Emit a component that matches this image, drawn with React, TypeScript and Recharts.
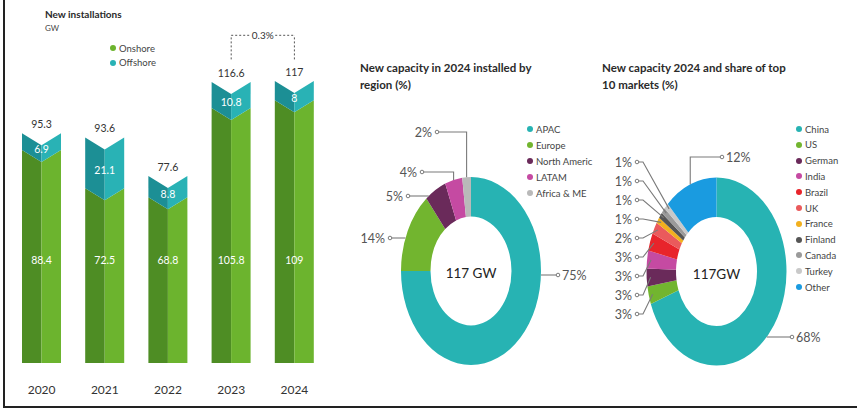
import React from "react";
import {
    BarChart,
    Bar,
    XAxis,
    YAxis,
    LabelList,
    ReferenceLine,
    PieChart,
    Pie,
    Cell,
} from "recharts";

// left panel: new installations, GW
const years = ["2020", "2021", "2022", "2023", "2024"];
const onshore = [88.4, 72.5, 68.8, 105.8, 109];
const offshore = [6.9, 21.1, 8.8, 10.8, 8];
const totals = [95.3, 93.6, 77.6, 116.6, 117];
const growthLabel = "0.3%";
const bracketTop = 136;
const bracketFoot = 126;

// middle panel: 2024 capacity by region
const regions = ["APAC", "Europe", "North Americ", "LATAM", "Africa & ME"];
const regionShares = [75, 14, 5, 4, 2];
const regionColors = ["#27b3b3", "#72b52f", "#6a2a5a", "#c54aa2", "#b9b9b9"];

// right panel: top 10 markets
const markets = ["China", "US", "German", "India", "Brazil", "UK", "France", "Finland", "Canada", "Turkey", "Other"];
const marketShares = [68, 3, 3, 3, 3, 2, 1, 1, 1, 1, 12];
const marketColors = [
    "#27b3b3", "#72b52f", "#6a2a5a", "#c54aa2", "#e8242b", "#ea5a5c",
    "#f2b01e", "#555555", "#9a9a9a", "#c9c9c9", "#1a9be0",
];

const GREEN_DARK = "#4e8d24";
const GREEN_LIGHT = "#6cb42e";
const TEAL_DARK = "#1c8f95";
const TEAL_LIGHT = "#29b2b5";

const DIP = 12; // chevron depth
const K = 1.343; // vertical stretch of the donuts
const OR = 70;
const IR = 40.5;
const RAD = Math.PI / 180;
const NO_MARGIN = { top: 0, right: 0, bottom: 0, left: 0 };

function Prism(props: any) {
    const { x, y, width, height, dark, light } = props;
    if (!height || height <= 0) return null;
    const m = x + width / 2;
    const b = y + height;
    return (
        <g>
            <polygon points={`${x},${y} ${m},${y + DIP} ${m},${b + DIP} ${x},${b}`} fill={dark} />
            <polygon points={`${m},${y + DIP} ${x + width},${y} ${x + width},${b} ${m},${b + DIP}`} fill={light} />
        </g>
    );
}

function box(p: any) {
    return p.viewBox && p.viewBox.width !== undefined ? p.viewBox : p;
}

type Spot = { kind: "left" | "right" | "elbowLeft" | "elbowRight" | "fan"; dy: number; dot: number };

function makeLabel(layout: Spot[], center: string) {
    return (p: any) => {
        const spot = layout[p.index];
        if (!spot) return null;
        const { cx, cy, midAngle, outerRadius } = p;
        const rx = outerRadius;
        const ry = outerRadius * K;
        const ty = cy + spot.dy;
        const dotX = cx + spot.dot;
        let pts = "";
        if (spot.kind === "left" || spot.kind === "right") {
            const side = spot.kind === "right" ? 1 : -1;
            const t = (ty - cy) / ry;
            const ex = cx + side * rx * Math.sqrt(Math.max(0, 1 - t * t));
            pts = `${ex},${ty} ${dotX},${ty}`;
        } else if (spot.kind === "elbowLeft" || spot.kind === "elbowRight") {
            const ax = cx + rx * Math.cos(-midAngle * RAD);
            const t = (ax - cx) / rx;
            const ay = cy - ry * Math.sqrt(Math.max(0, 1 - t * t));
            pts = `${ax},${ay} ${ax},${ty} ${dotX},${ty}`;
        } else {
            const ax = cx + (rx - 4) * Math.cos(-midAngle * RAD);
            const ay = cy + (ry - 4) * Math.sin(-midAngle * RAD);
            pts = `${ax},${ay} ${dotX + 6},${ty} ${dotX},${ty}`;
        }
        const toRight = spot.kind === "right" || spot.kind === "elbowRight";
        return (
            <g key={`lab-${p.index}`}>
                {p.index === 0 && (
                    <text x={cx} y={cy + 2} textAnchor="middle" dominantBaseline="central" fontSize={13.5} fill="#222">
                        {center}
                    </text>
                )}
                <polyline points={pts} fill="none" stroke="#7a7a7a" strokeWidth={1.1} />
                <circle cx={dotX} cy={ty} r={1.8} fill="#fff" stroke="#7a7a7a" strokeWidth={1} />
                <text
                    x={toRight ? dotX + 4 : dotX - 5}
                    y={ty}
                    textAnchor={toRight ? "start" : "end"}
                    dominantBaseline="central"
                    fontSize={12.5}
                    fill="#555"
                >
                    {`${p.value}%`}
                </text>
            </g>
        );
    };
}

const regionLayout: Spot[] = [
    { kind: "right", dy: 4, dot: 87 },
    { kind: "left", dy: -33, dot: -81 },
    { kind: "left", dy: -75, dot: -63 },
    { kind: "elbowLeft", dy: -99, dot: -49 },
    { kind: "elbowLeft", dy: -139, dot: -34 },
];

const marketLayout: Spot[] = markets.map((_, i) => {
    if (i === 0) return { kind: "right", dy: 65.5, dot: 75.5 };
    if (i === markets.length - 1) return { kind: "elbowRight", dy: -114.5, dot: 5.5 };
    return { kind: "fan", dy: -109.5 + 19 * (markets.length - 2 - i), dot: -79.5 };
});

function KeyList({ names, colors, x, y, step }: { names: string[]; colors: string[]; x: number; y: number; step: number }) {
    return (
        <>
            {names.map((n, i) => (
                <div
                    key={n}
                    style={{
                        position: "absolute",
                        left: x - 3,
                        top: y + i * step - 6,
                        height: 12,
                        display: "flex",
                        alignItems: "center",
                        fontSize: 9.5,
                        color: "#444",
                        whiteSpace: "nowrap",
                    }}
                >
                    <span style={{ width: 6, height: 6, borderRadius: 3, background: colors[i], marginRight: 3 }} />
                    {n}
                </div>
            ))}
        </>
    );
}

function Donut({ data, colors, layout, left, top, width, height, cx, cy, center }: any) {
    return (
        <>
            <div
                style={{
                    position: "absolute",
                    left,
                    top,
                    width,
                    height,
                    transform: `scaleY(${K})`,
                    transformOrigin: `${cx}px ${cy}px`,
                }}
            >
                <PieChart width={width} height={height} margin={NO_MARGIN}>
                    <Pie
                        data={data}
                        dataKey="value"
                        cx={cx}
                        cy={cy}
                        innerRadius={IR}
                        outerRadius={OR}
                        startAngle={90}
                        endAngle={-270}
                        stroke="none"
                        isAnimationActive={false}
                    >
                        {data.map((_: any, i: number) => (
                            <Cell key={i} fill={colors[i]} />
                        ))}
                    </Pie>
                </PieChart>
            </div>
            <div style={{ position: "absolute", left, top, width, height }}>
                <PieChart width={width} height={height} margin={NO_MARGIN}>
                    <Pie
                        data={data}
                        dataKey="value"
                        cx={cx}
                        cy={cy}
                        innerRadius={IR}
                        outerRadius={OR}
                        startAngle={90}
                        endAngle={-270}
                        stroke="none"
                        fill="transparent"
                        label={makeLabel(layout, center)}
                        labelLine={false}
                        isAnimationActive={false}
                    >
                        {data.map((_: any, i: number) => (
                            <Cell key={i} fill="transparent" />
                        ))}
                    </Pie>
                </PieChart>
            </div>
        </>
    );
}

export default function App() {
    const barData = years.map((year, i) => ({
        year,
        onshore: onshore[i],
        offshore: offshore[i],
        total: totals[i],
    }));
    const regionData = regions.map((name, i) => ({ name, value: regionShares[i] }));
    const marketData = markets.map((name, i) => ({ name, value: marketShares[i] }));

    const title: React.CSSProperties = {
        position: "absolute",
        fontSize: 11.5,
        fontWeight: 700,
        lineHeight: "17px",
        color: "#2a2a2a",
        whiteSpace: "nowrap",
    };

    return (
        <div
            style={{
                position: "absolute",
                left: 0,
                top: 0,
                width: 857,
                height: 414,
                background: "#fff",
                overflow: "hidden",
                fontFamily: "Lato, 'Open Sans', sans-serif",
            }}
        >
            <div
                style={{
                    position: "absolute",
                    left: 3,
                    top: -4,
                    width: 900,
                    height: 410,
                    borderLeft: "2px solid #222",
                    borderBottom: "2px solid #222",
                }}
            />

            <div style={{ ...title, left: 45, top: 7, fontSize: 10, lineHeight: "14px" }}>New installations</div>
            <div style={{ position: "absolute", left: 45, top: 23, fontSize: 8, color: "#444" }}>GW</div>
            <KeyList names={["Onshore", "Offshore"]} colors={[GREEN_LIGHT, TEAL_LIGHT]} x={113} y={48} step={14.5} />

            <div style={{ position: "absolute", left: 0, top: 0 }}>
                <BarChart width={330} height={414} data={barData} margin={{ top: 10, right: 4, bottom: 21, left: 10 }}>
                    <XAxis
                        dataKey="year"
                        axisLine={false}
                        tickLine={false}
                        tickMargin={16}
                        height={30}
                        interval={0}
                        tick={{ fontSize: 12, fill: "#333" }}
                    />
                    <YAxis hide domain={[0, 146.5]} allowDataOverflow />
                    <Bar
                        dataKey="onshore"
                        stackId="a"
                        barSize={39}
                        isAnimationActive={false}
                        shape={(p: any) => <Prism {...p} dark={GREEN_DARK} light={GREEN_LIGHT} />}
                    >
                        <LabelList
                            dataKey="onshore"
                            content={(p: any) => {
                                const b = box(p);
                                return (
                                    <text
                                        x={b.x + b.width / 2}
                                        y={b.y + b.height - 103}
                                        textAnchor="middle"
                                        dominantBaseline="central"
                                        fontSize={10.5}
                                        fill="#fff"
                                    >
                                        {p.value}
                                    </text>
                                );
                            }}
                        />
                    </Bar>
                    <Bar
                        dataKey="offshore"
                        stackId="a"
                        barSize={39}
                        isAnimationActive={false}
                        shape={(p: any) => <Prism {...p} dark={TEAL_DARK} light={TEAL_LIGHT} />}
                    >
                        <LabelList
                            dataKey="offshore"
                            content={(p: any) => {
                                const b = box(p);
                                return (
                                    <text
                                        x={b.x + b.width / 2}
                                        y={b.y + b.height / 2 + DIP / 2 + 1}
                                        textAnchor="middle"
                                        dominantBaseline="central"
                                        fontSize={10.5}
                                        fill="#fff"
                                    >
                                        {p.value}
                                    </text>
                                );
                            }}
                        />
                        <LabelList
                            dataKey="total"
                            content={(p: any) => {
                                const b = box(p);
                                const v = p.value ?? totals[p.index];
                                return (
                                    <text
                                        x={b.x + b.width / 2}
                                        y={b.y - 9}
                                        textAnchor="middle"
                                        dominantBaseline="central"
                                        fontSize={10.5}
                                        fill="#333"
                                    >
                                        {v}
                                    </text>
                                );
                            }}
                        />
                    </Bar>
                    <ReferenceLine
                        segment={[{ x: "2023", y: bracketFoot }, { x: "2023", y: bracketTop }]}
                        stroke="#555"
                        strokeDasharray="2 2"
                        ifOverflow="visible"
                    />
                    <ReferenceLine
                        segment={[{ x: "2024", y: bracketFoot }, { x: "2024", y: bracketTop }]}
                        stroke="#555"
                        strokeDasharray="2 2"
                        ifOverflow="visible"
                    />
                    <ReferenceLine
                        segment={[{ x: "2023", y: bracketTop }, { x: "2024", y: bracketTop }]}
                        stroke="#555"
                        strokeDasharray="2 2"
                        ifOverflow="visible"
                        label={(p: any) => {
                            const vb = p.viewBox || {};
                            const mx = vb.x + (vb.width || 0) / 2;
                            const my = vb.y;
                            return (
                                <g>
                                    <rect x={mx - 12} y={my - 6} width={24} height={12} fill="#fff" />
                                    <text x={mx} y={my} textAnchor="middle" dominantBaseline="central" fontSize={10} fill="#333">
                                        {growthLabel}
                                    </text>
                                </g>
                            );
                        }}
                    />
                </BarChart>
            </div>

            <div style={{ ...title, left: 360, top: 59 }}>
                New capacity in 2024 installed by
                <br />
                region (%)
            </div>
            <Donut
                data={regionData}
                colors={regionColors}
                layout={regionLayout}
                left={330}
                top={100}
                width={270}
                height={290}
                cx={141}
                cy={171}
                center="117 GW"
            />
            <KeyList names={regions} colors={regionColors} x={530} y={129} step={16} />

            <div style={{ ...title, left: 602, top: 59 }}>
                New capacity 2024 and share of top
                <br />
                10 markets (%)
            </div>
            <Donut
                data={marketData}
                colors={marketColors}
                layout={marketLayout}
                left={590}
                top={100}
                width={267}
                height={300}
                cx={126.5}
                cy={171.5}
                center="117GW"
            />
            <KeyList names={markets} colors={marketColors} x={799} y={129} step={15.8} />
        </div>
    );
}
